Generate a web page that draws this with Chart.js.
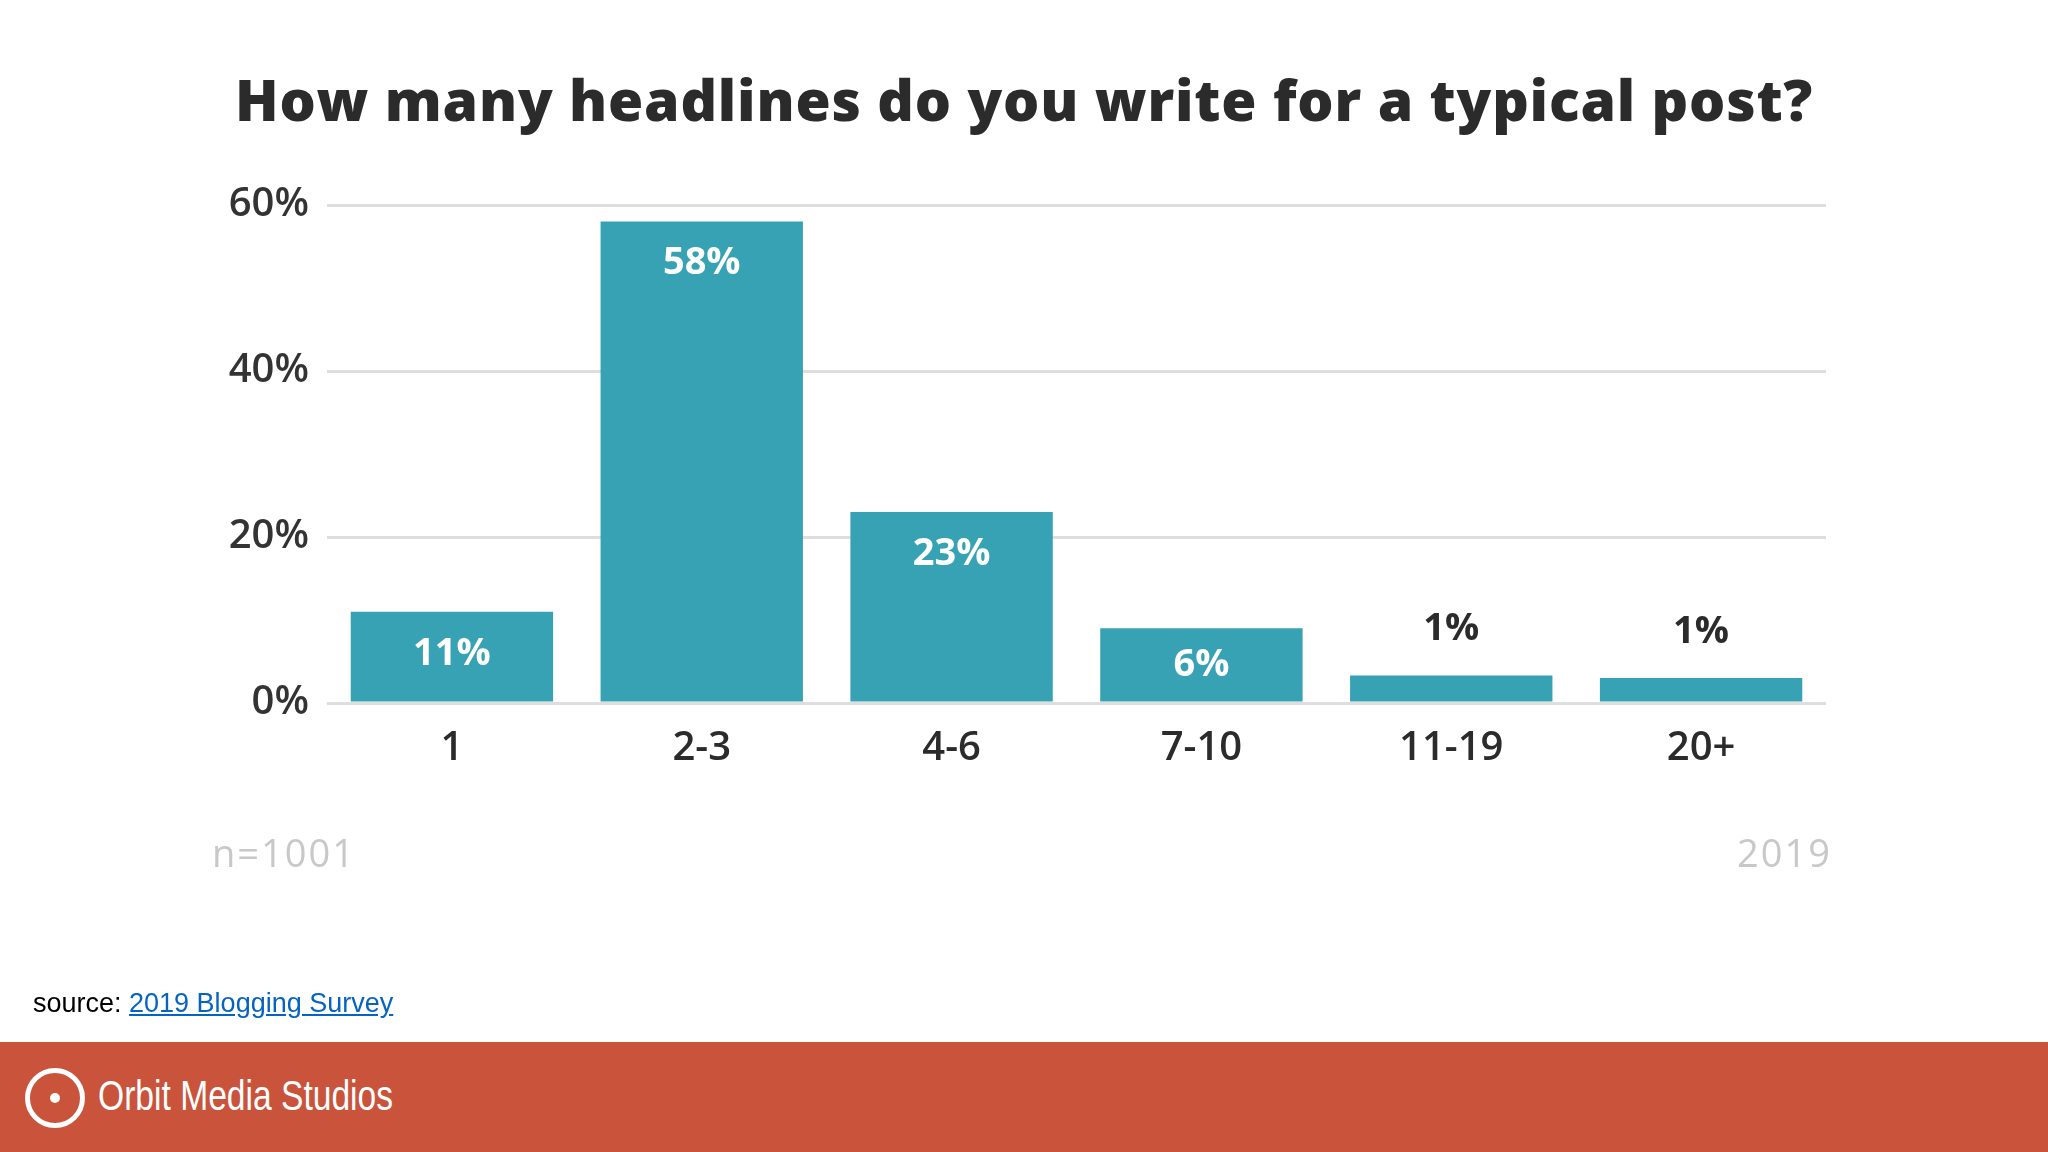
<!DOCTYPE html>
<html><head><meta charset="utf-8">
<script src="https://cdn.jsdelivr.net/npm/chart.js@4"></script>
<style>
html,body{margin:0;padding:0;width:2048px;height:1152px;background:#fff;overflow:hidden;font-family:"Open Sans",sans-serif;}
#wrap{position:absolute;left:0;top:0;width:2048px;height:1152px;}
.t{position:absolute;white-space:nowrap;}
</style></head><body>
<div id="wrap"><canvas id="c" width="2048" height="1152"></canvas></div>
<div class="t" style="left:0;width:2048px;text-align:center;top:60px;font-size:57px;font-weight:800;color:#2b2b2b;letter-spacing:0.8px;">How many headlines do you write for a typical post?</div>
<div class="t" style="left:212px;top:826px;font-size:38px;color:#c8c8c8;letter-spacing:2px;">n=1001</div>
<div class="t" style="right:216px;top:826px;font-size:38px;color:#c8c8c8;letter-spacing:2px;">2019</div>
<div class="t" style="left:33px;top:988px;font-size:27px;color:#000;font-family:'Liberation Sans',sans-serif;">source: <span style="color:#0563c1;text-decoration:underline;">2019 Blogging Survey</span></div>
<div style="position:absolute;left:0;top:1042px;width:2048px;height:110px;background:#c9533b;"></div>
<div style="position:absolute;left:25px;top:1068px;width:60px;height:60px;border:5px solid #fff;border-radius:50%;box-sizing:border-box;"></div>
<div style="position:absolute;left:50px;top:1093px;width:10px;height:10px;background:#fff;border-radius:50%;"></div>
<div class="t" style="left:98px;top:1072px;font-size:42px;color:#fff;font-family:'Liberation Sans',sans-serif;transform:scaleX(0.8);transform-origin:left top;">Orbit Media Studios</div>
<script>
const categories=['1','2-3','4-6','7-10','11-19','20+'];
const barHeights=[11,58,23,9,3.3,3];
const valueLabels=['11%','58%','23%','6%','1%','1%'];
const yTicks=[0,20,40,60];
const labelPlugin={id:'lbl',afterDatasetsDraw(chart){
  const ctx=chart.ctx;const meta=chart.getDatasetMeta(0);
  ctx.save();ctx.font='bold 38px "Open Sans"';ctx.textAlign='center';ctx.textBaseline='middle';
  meta.data.forEach((b,i)=>{
    const h=b.base-b.y;
    if(h>60){ctx.fillStyle='#fff';ctx.fillText(valueLabels[i],b.x,b.y+Math.min(42,h/2));}
    else{ctx.fillStyle='#2b2b2b';ctx.fillText(valueLabels[i],b.x,b.y-46);}
  });ctx.restore();}};
new Chart(document.getElementById('c'),{type:'bar',
 data:{labels:categories,datasets:[{data:barHeights,backgroundColor:'#37a2b3',categoryPercentage:0.81,barPercentage:1}]},
 options:{responsive:false,animation:false,devicePixelRatio:1,
  layout:{padding:{left:200,top:205,right:222,bottom:389}},
  plugins:{legend:{display:false},tooltip:{enabled:false}},
  scales:{
   y:{min:0,max:60,afterFit(s){s.width=127;},afterBuildTicks(s){s.ticks=yTicks.map(v=>({value:v}));},
      border:{display:false},grid:{color:'#dedede',lineWidth:3,drawTicks:false},
      ticks:{padding:18,color:'#333',font:{size:40,family:'Open Sans',weight:'600'},callback:v=>v+'%'}},
   x:{afterFit(s){s.height=60;},grid:{display:false},border:{display:false},
      ticks:{padding:14,color:'#2b2b2b',font:{size:40,family:'Open Sans',weight:'600'}}}
  }},plugins:[labelPlugin]});
</script>
</body></html>
